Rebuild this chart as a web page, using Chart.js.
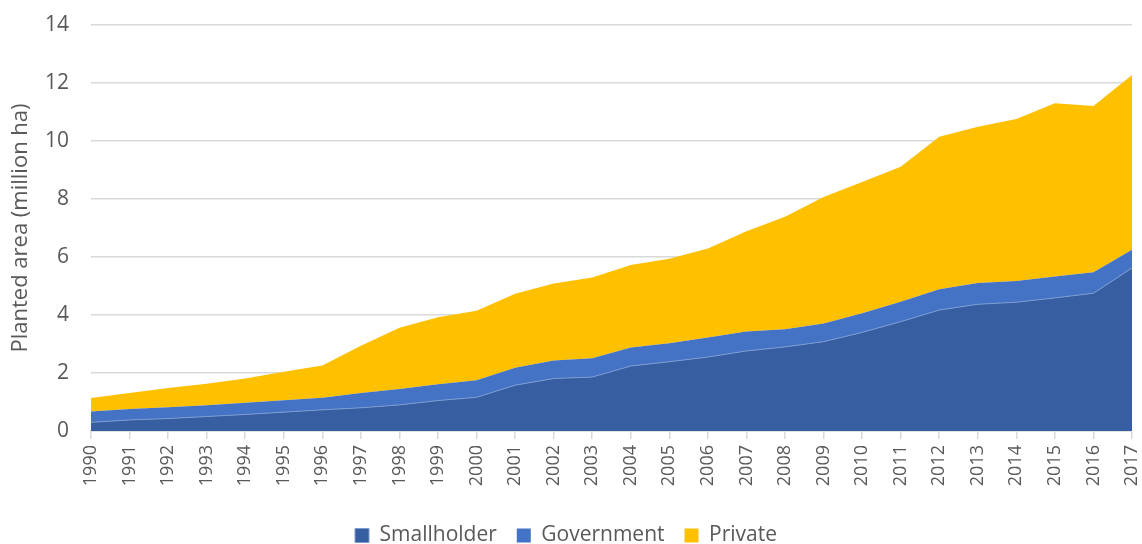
<!DOCTYPE html>
<html>
<head>
<meta charset="utf-8">
<style>
html,body{margin:0;padding:0;background:#fff;}
#wrap{width:1142px;height:544px;position:relative;}
</style>
<script src="https://cdn.jsdelivr.net/npm/chart.js@4.4.1/dist/chart.umd.min.js"></script>
</head>
<body>
<div id="wrap"><canvas id="c" width="1142" height="544"></canvas></div>
<script>
const years = ["1990","1991","1992","1993","1994","1995","1996","1997","1998","1999","2000","2001","2002","2003","2004","2005","2006","2007","2008","2009","2010","2011","2012","2013","2014","2015","2016","2017"];
const smallholder = [0.30,0.38,0.43,0.50,0.57,0.65,0.73,0.80,0.90,1.05,1.16,1.58,1.81,1.86,2.24,2.39,2.55,2.76,2.90,3.08,3.40,3.77,4.17,4.37,4.44,4.59,4.75,5.62];
const government = [0.37,0.38,0.39,0.39,0.40,0.41,0.42,0.51,0.55,0.56,0.59,0.60,0.62,0.65,0.64,0.64,0.67,0.67,0.61,0.63,0.66,0.69,0.72,0.73,0.73,0.74,0.72,0.63];
const privateArea = [0.47,0.55,0.66,0.74,0.84,0.98,1.11,1.63,2.11,2.31,2.40,2.55,2.66,2.78,2.84,2.91,3.07,3.46,3.88,4.36,4.53,4.65,5.26,5.39,5.59,5.97,5.74,6.03];
const yTicks = [0,2,4,6,8,10,12,14];

const FONT = "'Open Sans', 'Liberation Sans', sans-serif";
const TXT = '#595959';

new Chart(document.getElementById('c'), {
  type: 'line',
  data: {
    labels: years,
    datasets: [
      {label:'Smallholder', data: smallholder, backgroundColor:'#365EA0', borderColor:'#7C9BD2', borderWidth:1, fill:'origin', pointRadius:0, tension:0},
      {label:'Government', data: government, backgroundColor:'#4472C4', borderColor:'#4472C4', borderWidth:0, fill:'-1', pointRadius:0, tension:0},
      {label:'Private', data: privateArea, backgroundColor:'#FFC000', borderColor:'#FFC000', borderWidth:0, fill:'-1', pointRadius:0, tension:0}
    ]
  },
  options: {
    responsive:false,
    animation:false,
    devicePixelRatio:1,
    layout:{padding:{top:25,right:10,left:0,bottom:-12}},
    plugins:{
      legend:{
        position:'bottom',
        labels:{font:{family:FONT,size:21},color:TXT,boxWidth:14,boxHeight:14,padding:20}
      },
      tooltip:{enabled:false}
    },
    scales:{
      x:{
        offset:false,
        grid:{display:true,drawOnChartArea:false,drawTicks:true,tickLength:8,color:'#d9d9d9',lineWidth:1.5},
        border:{display:true,color:'#d9d9d9',width:1.5},
        ticks:{font:{family:FONT,size:18},color:TXT,maxRotation:90,minRotation:90,autoSkip:false,padding:6},
        afterFit:(s)=>{s.height=74; s.paddingLeft=0; s.paddingRight=0;}
      },
      y:{
        stacked:true,
        min:0,max:14,
        afterBuildTicks:(s)=>{s.ticks=yTicks.map(v=>({value:v}));},
        grid:{color:'#d9d9d9',lineWidth:1.5,drawTicks:false},
        border:{display:false},
        ticks:{font:{family:FONT,size:21},color:TXT,padding:22},
        title:{display:true,text:'Planted area (million ha)',font:{family:FONT,size:22},color:TXT,padding:{top:8,bottom:0}},
        afterFit:(s)=>{s.width=91; s.paddingTop=0; s.paddingBottom=0;}
      }
    }
  }
});
</script>
</body>
</html>
